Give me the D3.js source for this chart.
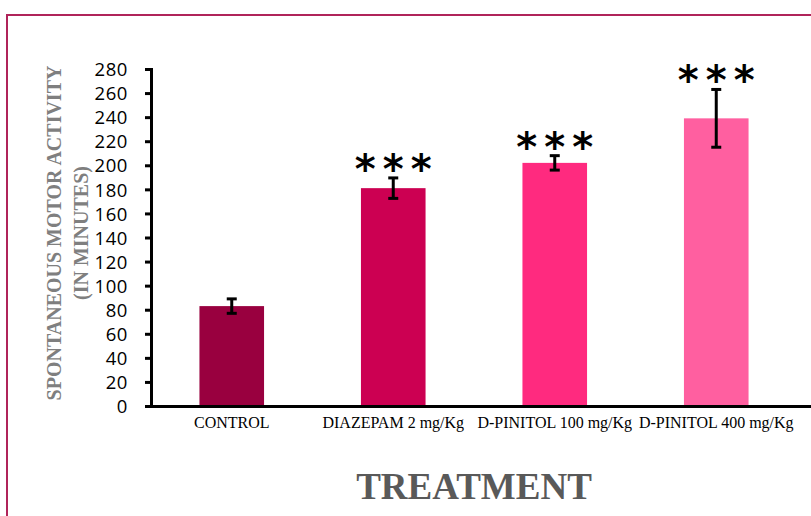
<!DOCTYPE html>
<html>
<head>
<meta charset="utf-8">
<script src="https://cdn.jsdelivr.net/npm/d3@7"></script>
<style>
  html, body { margin: 0; padding: 0; background: #fff; }
  svg { display: block; }
</style>
</head>
<body>
<svg id="chart" width="811" height="516"></svg>
<script>
// Spontaneous motor activity per treatment group (mean ± error)
const categories = ["CONTROL", "DIAZEPAM 2 mg/Kg", "D-PINITOL 100 mg/Kg", "D-PINITOL 400 mg/Kg"];
const means = [83, 181, 202, 239];
const errors = [6, 8.5, 6, 24];
const significance = ["", "***", "***", "***"];
const barColors = ["#99003f", "#cc0052", "#ff2a7f", "#ff5fa0"];
const yTicks = [0, 20, 40, 60, 80, 100, 120, 140, 160, 180, 200, 220, 240, 260, 280];

const svg = d3.select("#chart");

// outer frame
svg.append("path")
  .attr("d", "M7,530 L7,15 L820,15")
  .attr("fill", "none")
  .attr("stroke", "#b0245a")
  .attr("stroke-width", 2);

const plot = { left: 151, right: 797, top: 69, bottom: 406 };

const x = d3.scaleBand()
  .domain(categories)
  .range([plot.left, plot.right])
  .paddingInner(0.6)
  .paddingOuter(0.3);

const y = d3.scaleLinear()
  .domain([0, 280])
  .range([plot.bottom, plot.top]);

// bars
svg.append("g").selectAll("rect")
  .data(categories)
  .join("rect")
  .attr("x", d => x(d))
  .attr("width", x.bandwidth())
  .attr("y", (d, i) => y(means[i]))
  .attr("height", (d, i) => y(0) - y(means[i]))
  .attr("fill", (d, i) => barColors[i]);

// error bars
const eb = svg.append("g").attr("stroke", "#000").attr("stroke-width", 3);
categories.forEach((c, i) => {
  const cx = x(c) + x.bandwidth() / 2;
  const hi = y(means[i] + errors[i]);
  const lo = y(means[i] - errors[i]);
  eb.append("line").attr("x1", cx).attr("x2", cx).attr("y1", hi).attr("y2", lo);
  eb.append("line").attr("x1", cx - 5).attr("x2", cx + 5).attr("y1", hi).attr("y2", hi);
  eb.append("line").attr("x1", cx - 5).attr("x2", cx + 5).attr("y1", lo).attr("y2", lo);
});

// significance markers above the error bars
const starSpacing = 7;
svg.append("g").selectAll("text")
  .data(categories)
  .join("text")
  .attr("x", d => x(d) + x.bandwidth() / 2 + starSpacing / 2)
  .attr("y", (d, i) => y(means[i] + errors[i]) + 5)
  .attr("text-anchor", "middle")
  .attr("font-family", "DejaVu Sans, sans-serif")
  .attr("font-weight", "bold")
  .attr("font-size", 40)
  .attr("letter-spacing", starSpacing)
  .attr("fill", "#000")
  .text((d, i) => significance[i]);

// y axis
const yAxis = svg.append("g")
  .attr("transform", `translate(${plot.left},0)`)
  .call(d3.axisLeft(y).tickValues(yTicks).tickSize(6).tickPadding(17).tickSizeOuter(0));
yAxis.select(".domain").attr("stroke", "#000").attr("stroke-width", 3)
  .attr("d", `M0.5,${plot.top - 1}V${plot.bottom + 1.5}`);
yAxis.selectAll(".tick line").attr("stroke", "#000").attr("stroke-width", 3);
yAxis.selectAll(".tick text")
  .attr("font-family", "Open Sans, sans-serif")
  .attr("font-size", 18.5)
  .attr("letter-spacing", 0.6)
  .attr("fill", "#000")
  .attr("dy", "0.36em");

// x axis
const xAxis = svg.append("g")
  .attr("transform", `translate(0,${plot.bottom})`)
  .call(d3.axisBottom(x).tickSize(0).tickPadding(11));
xAxis.select(".domain").attr("stroke", "#000").attr("stroke-width", 3)
  .attr("d", `M${plot.left - 6},0.5H811`);
xAxis.selectAll(".tick text")
  .attr("font-family", "Liberation Serif, Times New Roman, serif")
  .attr("font-size", 16)
  .attr("fill", "#000");

// y axis title
const yTitle = svg.append("text")
  .attr("transform", "translate(0,233) rotate(-90)")
  .attr("text-anchor", "middle")
  .attr("font-family", "Liberation Serif, Times New Roman, serif")
  .attr("font-weight", "bold")
  .attr("font-size", 20)
  .attr("fill", "#7f7f7f");
yTitle.append("tspan").attr("x", 0).attr("y", 61).text("SPONTANEOUS MOTOR ACTIVITY");
yTitle.append("tspan").attr("x", 0).attr("y", 88).text("(IN MINUTES)");

// x axis title
svg.append("text")
  .attr("x", (plot.left + plot.right) / 2)
  .attr("y", 499)
  .attr("text-anchor", "middle")
  .attr("font-family", "Liberation Serif, Times New Roman, serif")
  .attr("font-weight", "bold")
  .attr("font-size", 37)
  .attr("fill", "#595959")
  .text("TREATMENT");
</script>
</body>
</html>
